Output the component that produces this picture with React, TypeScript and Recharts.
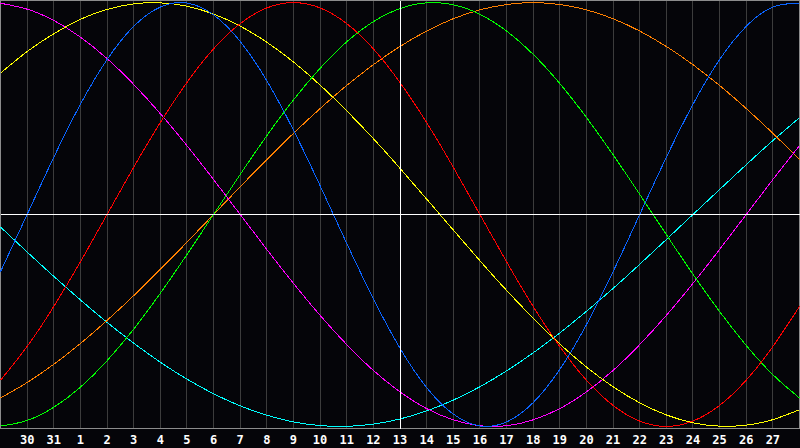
import React from "react";
import {
  LineChart,
  Line,
  XAxis,
  YAxis,
  CartesianGrid,
  ReferenceLine,
  ReferenceArea,
} from "recharts";

// Day labels, one per sampled day (first and last are off-label edge days)
const dayLabels = [29, 30, 31, 1, 2, 3, 4, 5, 6, 7, 8, 9, 10, 11, 12, 13, 14, 15, 16, 17, 18, 19, 20, 21, 22, 23, 24, 25, 26, 27, 28];
const tickPositions = [0, 1, 2, 3, 4, 5, 6, 7, 8, 9, 10, 11, 12, 13, 14, 15, 16, 17, 18, 19, 20, 21, 22, 23, 24, 25, 26, 27, 28];
const todayPosition = 14;

// Series values
const physical = [-0.27, 0, 0.27, 0.52, 0.731, 0.888, 0.979, 0.998, 0.942, 0.817, 0.631, 0.398, 0.136, -0.136, -0.398, -0.631, -0.817, -0.942, -0.998, -0.979, -0.888, -0.731, -0.52, -0.27, 0, 0.27, 0.52, 0.731, 0.888, 0.979, 0.998];
const emotional = [-0.782, -0.623, -0.434, -0.223, 0, 0.223, 0.434, 0.623, 0.782, 0.901, 0.975, 1, 0.975, 0.901, 0.782, 0.623, 0.434, 0.223, 0, -0.223, -0.434, -0.623, -0.782, -0.901, -0.975, -1, -0.975, -0.901, -0.782, -0.623, -0.434];
const intellectual = [-0.999, -0.972, -0.91, -0.815, -0.69, -0.541, -0.372, -0.189, 0, 0.189, 0.372, 0.541, 0.69, 0.815, 0.91, 0.972, 0.999, 0.99, 0.945, 0.866, 0.756, 0.618, 0.458, 0.282, 0.095, -0.095, -0.282, -0.458, -0.618, -0.756, -0.866];
const aesthetic = [0.667, 0.769, 0.853, 0.921, 0.968, 0.994, 0.999, 0.983, 0.946, 0.889, 0.813, 0.72, 0.611, 0.489, 0.358, 0.218, 0.073, -0.073, -0.218, -0.358, -0.489, -0.611, -0.72, -0.813, -0.889, -0.946, -0.983, -0.999, -0.994, -0.968, -0.921];
const intuitive = [0.997, 0.969, 0.916, 0.837, 0.736, 0.614, 0.476, 0.325, 0.165, 0, -0.165, -0.325, -0.476, -0.614, -0.736, -0.837, -0.916, -0.969, -0.997, -0.997, -0.969, -0.916, -0.837, -0.736, -0.614, -0.476, -0.325, -0.165, 0, 0.165, 0.325];
const spiritual = [-0.059, -0.177, -0.292, -0.403, -0.509, -0.607, -0.697, -0.777, -0.846, -0.903, -0.947, -0.979, -0.996, -1.0, -0.989, -0.965, -0.927, -0.876, -0.813, -0.738, -0.653, -0.559, -0.457, -0.349, -0.235, -0.118, 0, 0.118, 0.235, 0.349, 0.457];
const awareness = [-0.866, -0.793, -0.707, -0.609, -0.5, -0.383, -0.259, -0.131, 0, 0.131, 0.259, 0.383, 0.5, 0.609, 0.707, 0.793, 0.866, 0.924, 0.966, 0.991, 1, 0.991, 0.966, 0.924, 0.866, 0.793, 0.707, 0.609, 0.5, 0.383, 0.259];

const data = dayLabels.map((day, i) => ({
  pos: i - 1,
  day,
  physical: physical[i],
  emotional: emotional[i],
  intellectual: intellectual[i],
  aesthetic: aesthetic[i],
  intuitive: intuitive[i],
  spiritual: spiritual[i],
  awareness: awareness[i],
}));

const series = [
  { key: "spiritual", color: "#00ffff" },
  { key: "awareness", color: "#ff8000" },
  { key: "intuitive", color: "#ff00ff" },
  { key: "aesthetic", color: "#ffff00" },
  { key: "intellectual", color: "#00ff00" },
  { key: "emotional", color: "#ff0000" },
  { key: "physical", color: "#0a64ff" },
];

export default function App() {
  return (
    <div style={{ position: "absolute", left: 0, top: 0, width: 800, height: 448, background: "#050509" }}>
      <LineChart
        width={800}
        height={448}
        data={data}
        margin={{ top: 0.5, right: 0.5, left: 0.5, bottom: 0 }}
      >
        <CartesianGrid
          horizontal={false}
          vertical={true}
          stroke="#3c3c3c"
          strokeWidth={1}
          shapeRendering="crispEdges"
        />
        <XAxis
          dataKey="pos"
          type="number"
          domain={[-1, 29]}
          ticks={tickPositions}
          interval={0}
          height={19.5}
          axisLine={false}
          tickLine={false}
          tickMargin={1}
          tickFormatter={(v: number) => String(dayLabels[v + 1])}
          tick={{ fill: "#ffffff", fontSize: 12, fontWeight: "bold", fontFamily: "DejaVu Sans Mono" }}
        />
        <YAxis hide domain={[-1.01, 1.01]} type="number" allowDataOverflow />
        <ReferenceArea
          x1={-1}
          x2={29}
          y1={-1.01}
          y2={1.01}
          fill="none"
          fillOpacity={0}
          stroke="#8c8c8c"
          strokeWidth={1}
          shapeRendering="crispEdges"
        />
        {series.map((s) => (
          <Line
            key={s.key}
            dataKey={s.key}
            type="natural"
            stroke={s.color}
            strokeWidth={1}
            dot={false}
            activeDot={false}
            isAnimationActive={false}
            shapeRendering="crispEdges"
          />
        ))}
        <ReferenceLine y={0} stroke="#ffffff" strokeWidth={1} shapeRendering="crispEdges" />
        <ReferenceLine x={todayPosition} stroke="#ffffff" strokeWidth={1} shapeRendering="crispEdges" />
      </LineChart>
    </div>
  );
}
